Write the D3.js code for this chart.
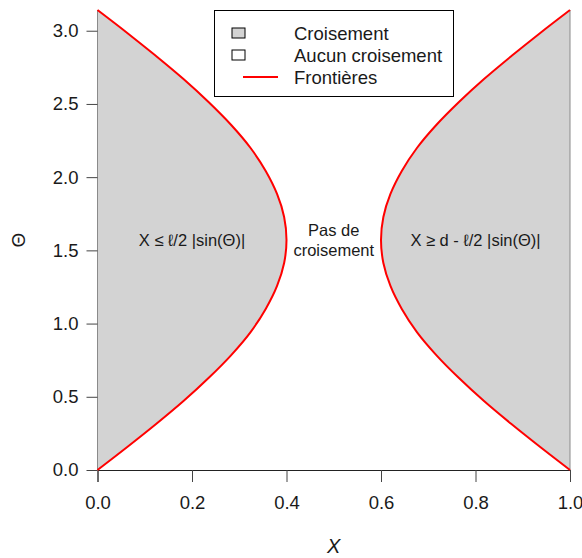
<!DOCTYPE html>
<html><head><meta charset="utf-8">
<script src="https://cdn.jsdelivr.net/npm/d3@7"></script>
<style>
html,body{margin:0;padding:0;background:#fff;}
svg{display:block;font-family:"Liberation Sans",Arial,Helvetica,sans-serif;}
</style></head>
<body><div id="chart"></div>
<script>
const theta  = [0, 0.157, 0.314, 0.471, 0.628, 0.785, 0.942, 1.100, 1.257, 1.414, 1.571, 1.728, 1.885, 2.042, 2.199, 2.356, 2.513, 2.670, 2.827, 2.985, 3.1416];
const xLeft  = [0, 0.063, 0.124, 0.182, 0.235, 0.283, 0.324, 0.356, 0.380, 0.395, 0.400, 0.395, 0.380, 0.356, 0.324, 0.283, 0.235, 0.182, 0.124, 0.063, 0];
const xRight = [1, 0.937, 0.876, 0.818, 0.765, 0.717, 0.676, 0.644, 0.620, 0.605, 0.600, 0.605, 0.620, 0.644, 0.676, 0.717, 0.765, 0.818, 0.876, 0.937, 1];
const xTicks = [0, 0.2, 0.4, 0.6, 0.8, 1.0];
const yTicks = [0, 0.5, 1.0, 1.5, 2.0, 2.5, 3.0];
const legendLabels = ["Croisement", "Aucun croisement", "Frontières"];
const regionLabels = [
  {x: 0.2, y: 1.571, lines: ["X ≤ ℓ/2 |sin(Θ)|"]},
  {x: 0.5, y: 1.571, lines: ["Pas de", "croisement"]},
  {x: 0.8, y: 1.571, lines: ["X ≥ d - ℓ/2 |sin(Θ)|"]}
];

const W = 582, H = 558;
const L = 97.5, R = 570, T = 10, B = 470;
const svg = d3.select("#chart").append("svg").attr("width", W).attr("height", H);
const x = d3.scaleLinear().domain([0, 1]).range([L, R]);
const y = d3.scaleLinear().domain([0, Math.PI]).range([B, T]);
const txt = "#1a1a1a";

const leftPts = theta.map((t, i) => [xLeft[i], t]);
const rightPts = theta.map((t, i) => [xRight[i], t]);

const curve = d3.line().x(d => x(d[0])).y(d => y(d[1])).curve(d3.curveCatmullRom);
const area = (pts, base) => d3.area().y(d => y(d[1])).x0(x(base)).x1(d => x(d[0])).curve(d3.curveCatmullRom)(pts);
svg.append("path").attr("d", area(leftPts, 0)).attr("fill", "#d3d3d3").attr("stroke", "none");
svg.append("path").attr("d", area(rightPts, 1)).attr("fill", "#d3d3d3").attr("stroke", "none");
[0, 1].forEach(v => svg.append("line").attr("x1", x(v)).attr("x2", x(v)).attr("y1", y(0)).attr("y2", y(Math.PI))
  .attr("stroke", "#8a8a8a").attr("stroke-width", 1));

const xAxis = svg.append("g").attr("transform", `translate(0,${B})`)
  .call(d3.axisBottom(x).tickValues(xTicks).tickFormat(d3.format(".1f")).tickSize(12).tickPadding(14));
xAxis.select(".domain").attr("stroke", "#222");
xAxis.selectAll(".tick line").attr("stroke", "#444");
xAxis.selectAll("text").attr("font-size", "18.5px").attr("fill", txt).attr("font-family", "Liberation Sans, Arial, sans-serif");

const yAxis = svg.append("g").attr("transform", `translate(${L},0)`)
  .call(d3.axisLeft(y).tickValues(yTicks).tickFormat(d3.format(".1f")).tickSize(11).tickPadding(8));
yAxis.select(".domain").remove();
yAxis.selectAll(".tick line").attr("stroke", "#444");
yAxis.selectAll("text").attr("font-size", "18.5px").attr("fill", txt).attr("font-family", "Liberation Sans, Arial, sans-serif");

svg.append("path").attr("d", curve(leftPts)).attr("fill", "none").attr("stroke", "#ff0000").attr("stroke-width", 2);
svg.append("path").attr("d", curve(rightPts)).attr("fill", "none").attr("stroke", "#ff0000").attr("stroke-width", 2);

regionLabels.forEach(r => {
  const n = r.lines.length;
  r.lines.forEach((s, i) => {
    svg.append("text").attr("x", x(r.x)).attr("y", y(r.y) + (i - (n - 1) / 2) * 20)
      .attr("text-anchor", "middle").attr("dominant-baseline", "central")
      .attr("font-size", "16.5px").attr("fill", txt).text(s);
  });
});

svg.append("text").attr("x", (L + R) / 2).attr("y", 553).attr("text-anchor", "middle")
  .attr("font-size", "20px").attr("font-style", "italic").attr("fill", txt).text("X");
svg.append("text").attr("transform", `translate(18,${(T + B) / 2}) rotate(-90)`)
  .attr("text-anchor", "middle").attr("dominant-baseline", "central")
  .attr("font-size", "19px").attr("fill", txt).text("Θ");

const lg = svg.append("g");
lg.append("rect").attr("x", 214.5).attr("y", 10.5).attr("width", 239).attr("height", 86)
  .attr("fill", "#fff").attr("stroke", "#000").attr("stroke-width", 1);
const rowY = [33, 55, 77];
lg.append("rect").attr("x", 232).attr("y", rowY[0] - 5).attr("width", 13).attr("height", 10)
  .attr("fill", "#d3d3d3").attr("stroke", "#000");
lg.append("rect").attr("x", 232).attr("y", rowY[1] - 5).attr("width", 13).attr("height", 10)
  .attr("fill", "#fff").attr("stroke", "#000");
lg.append("line").attr("x1", 243).attr("x2", 278).attr("y1", rowY[2]).attr("y2", rowY[2])
  .attr("stroke", "#ff0000").attr("stroke-width", 2);
legendLabels.forEach((s, i) => {
  lg.append("text").attr("x", 294).attr("y", rowY[i]).attr("dominant-baseline", "central")
    .attr("font-size", "18.5px").attr("fill", txt).text(s);
});
</script></body></html>
